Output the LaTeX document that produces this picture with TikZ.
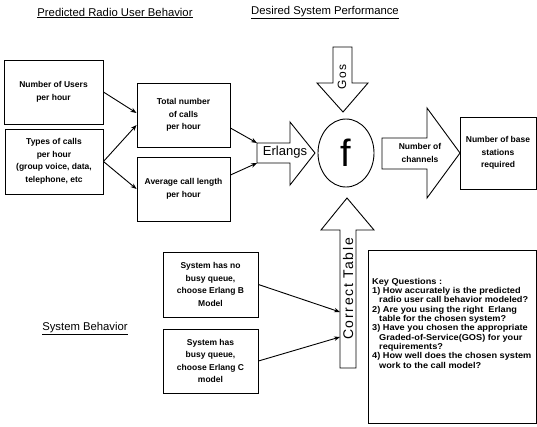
\documentclass[tikz,border=0pt]{standalone}
\usepackage{fontspec}
\setmainfont{Liberation Sans}
\usetikzlibrary{arrows.meta,shapes.geometric}

\begin{document}
\begin{tikzpicture}[x=1pt,y=-1pt,
    infobox/.style={draw, line width=0.9pt, align=center, inner sep=1pt,
        font=\fontsize{8.5}{12.5}\selectfont\bfseries},
    blockarrow/.style={draw, line width=0.9pt, line join=miter},
    conn/.style={-{Stealth[length=6pt,width=4.5pt]}, line width=0.9pt},
    heading/.style={font=\fontsize{11.3}{13}\selectfont}
]
\useasboundingbox (0,0) rectangle (537,426);

% headings
\node[heading] (predicted) at (115,13) {\underline{Predicted Radio User Behavior}};
\node[heading] (desired) at (325,13) {\underline{Desired System Performance}};
\node[heading] (sysbehav) at (85,329) {\underline{System Behavior}};

% user behaviour boxes
\node[infobox, minimum width=99, minimum height=64] (users) at (53.5,92)
    {Number of Users\\per hour};
\node[infobox, minimum width=98, minimum height=65] (types) at (54,161.5)
    {Types of calls\\per hour\\(group voice, data,\\telephone, etc};
\node[infobox, minimum width=93, minimum height=64] (total) at (183.5,115)
    {Total number\\of calls\\per hour};
\node[infobox, minimum width=93, minimum height=64] (avg) at (183.5,189)
    {Average call length\\per hour};

% system behaviour boxes
\node[infobox, minimum width=95, minimum height=65] (sysb) at (210.5,284.5)
    {System has no\\busy queue,\\choose Erlang B\\Model};
\node[infobox, minimum width=95, minimum height=64] (sysc) at (210.5,361)
    {System has\\busy queue,\\choose Erlang C\\model};

% function
\node[draw, ellipse, line width=0.9pt, minimum width=56, minimum height=68,
    inner sep=0pt, font=\fontsize{38}{40}\selectfont] (func) at (346,153) {f};

% block arrows
\draw[blockarrow] (257,143) -- (290,143) -- (290,122) -- (315,153)
    -- (290,185) -- (290,163) -- (257,163) -- cycle;
\coordinate (erltop) at (257,143);
\coordinate (erlbot) at (257,163);
\node[font=\fontsize{13}{15}\selectfont] (erlangs) at (285,152) {Erlangs};

\draw[blockarrow] (333,47) -- (352,47) -- (352,83) -- (368,83)
    -- (343,112) -- (317,83) -- (333,83) -- cycle;
\node[rotate=90, font=\fontsize{12}{14}\selectfont\addfontfeature{LetterSpace=15}] (gos) at (342,77) {Gos};

\draw[blockarrow] (382,138) -- (427,138) -- (427,108) -- (460,153)
    -- (427,198) -- (427,169) -- (382,169) -- cycle;
\node[font=\fontsize{8.5}{12.5}\selectfont\bfseries, align=center] (channels) at (420,153)
    {Number of\\channels};

\draw[blockarrow] (340,368) -- (340,230) -- (321,230) -- (347,198)
    -- (374,230) -- (356,230) -- (356,368) -- cycle;
\coordinate (ctupper) at (340,312);
\coordinate (ctlower) at (340,337);
\node[rotate=90, font=\fontsize{14}{16}\selectfont\addfontfeature{LetterSpace=12}] (correct) at (348,289) {Correct Table};

% result
\node[infobox, minimum width=76, minimum height=72] (stations) at (498,153)
    {Number of base\\stations\\required};

% key questions
\node[draw, line width=0.9pt, minimum width=168, minimum height=173] (keyq) at (452,336.5) {};
\node[anchor=north west, align=left, inner sep=0pt,
    font=\fontsize{8.5}{9.3}\selectfont\bfseries\addfontfeature{FakeStretch=1.08}] (keytext) at (372,278) {%
    Key Questions :\\
    1) How accurately is the predicted\\
    \hspace*{7pt}radio user call behavior modeled?\\
    2) Are you using the right\ \ Erlang\\
    \hspace*{7pt}table for the chosen system?\\
    3) Have you chosen the appropriate\\
    \hspace*{7pt}Graded-of-Service(GOS) for your\\
    \hspace*{7pt}requirements?\\
    4) How well does the chosen system\\
    \hspace*{7pt}work to the call model?};

% connectors
\draw[conn] (users.east) -- ([yshift=2pt]total.west);
\draw[conn] (types.east) -- ([yshift=-10pt]total.west);
\draw[conn] (types.east) -- (avg.west);
\draw[conn] ([yshift=-13pt]total.east) -- (erltop);
\draw[conn] ([yshift=14pt]avg.east) -- (erlbot);
\draw[conn] (sysb.east) -- (ctupper);
\draw[conn] (sysc.east) -- (ctlower);
\end{tikzpicture}
\end{document}
